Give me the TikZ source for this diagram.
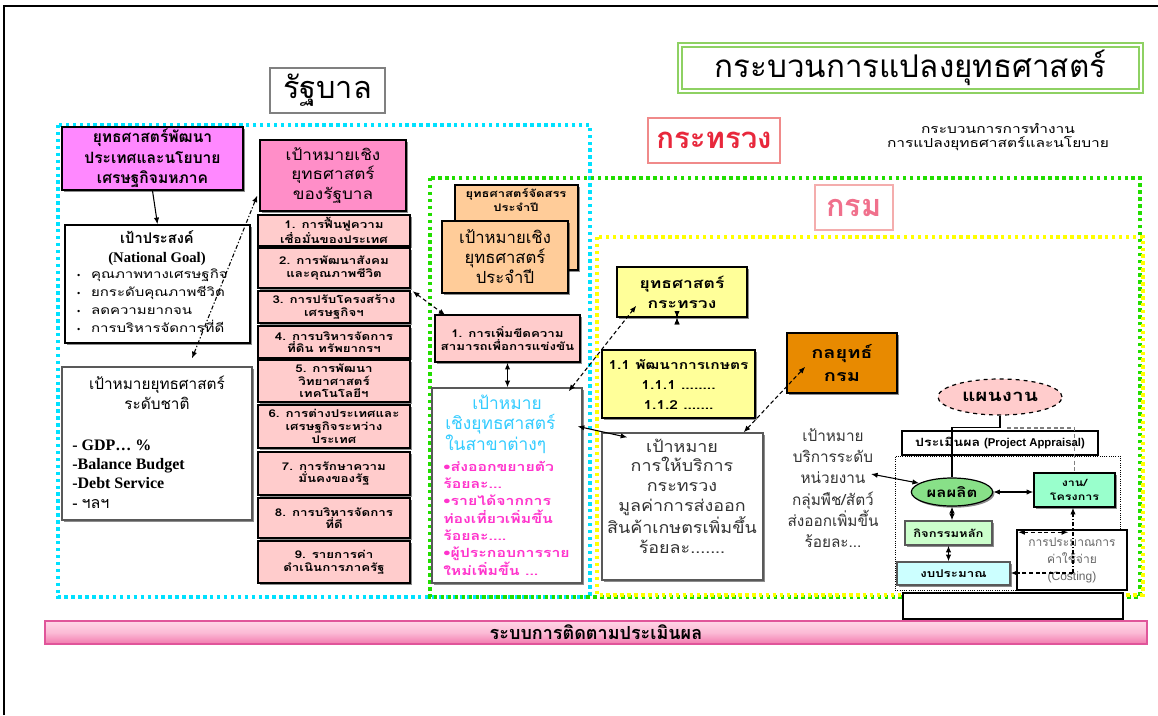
\documentclass[tikz,border=0pt]{standalone}
\usepackage{fontspec}
\setmainfont{Loma}[Script=Thai]
\newfontfamily\mthai{Loma}[Script=Thai, FakeStretch=1.12]
\newfontfamily\wthai{Loma}[Script=Thai, FakeStretch=1.25]
\newfontfamily\enserif{Liberation Serif}
\newfontfamily\ensans{Liberation Sans}
\newfontfamily\dv{DejaVu Sans}
\usetikzlibrary{arrows.meta,fit,shapes.geometric,calc,shadows}

\definecolor{cyanfr}{HTML}{00E1FF}
\definecolor{greenfr}{HTML}{22DD00}
\definecolor{yellowfr}{HTML}{FFFF00}
\definecolor{titlegreen}{HTML}{8ED163}
\definecolor{magbox}{HTML}{FF88FF}
\definecolor{pinkhead}{HTML}{FF8EC8}
\definecolor{pinkitem}{HTML}{FFCCCC}
\definecolor{orangelt}{HTML}{FFCC99}
\definecolor{yellowbox}{HTML}{FFFF99}
\definecolor{orangedk}{HTML}{E88A00}
\definecolor{mintbox}{HTML}{99FFCC}
\definecolor{greenlt}{HTML}{CCFFCC}
\definecolor{cyanlt}{HTML}{CCFFFF}
\definecolor{greenell}{HTML}{88E088}
\definecolor{redtxt}{HTML}{E8283C}
\definecolor{redfr}{HTML}{F08A8A}
\definecolor{pinktxt}{HTML}{F0708C}
\definecolor{cyantxt}{HTML}{33CCFF}
\definecolor{magtxt}{HTML}{FF33CC}
\definecolor{bartop}{HTML}{FFD6E6}
\definecolor{barbot}{HTML}{F27AAE}
\definecolor{barfr}{HTML}{E0559A}
\definecolor{greytxt}{HTML}{333333}

\newcommand\fsz[2]{\fontsize{#1}{#2}\selectfont}
\newcommand\bul{{\dv\fsz{6}{8}•}\ \ }

\begin{document}
\begin{tikzpicture}[x=0.75pt,y=-0.75pt,
  box/.style={draw=black, line width=1.1pt, inner sep=0pt},
  gbox/.style={draw=gray!70!black, line width=1pt, inner sep=0pt},
  shd/.style={drop shadow={shadow xshift=1.3pt, shadow yshift=-1.3pt, fill=black, opacity=0.45}},
  item/.style={box, fill=pinkitem, shd},
  lbl/.style={inner sep=0pt, align=center},
  itemtext/.style={lbl, font={\wthai\bfseries\fsz{8}{9.5}}},
  tipa/.style={-{Latex[length=5pt,width=4pt]}, line width=0.8pt},
  dbl/.style={{Latex[length=5pt,width=4pt]}-{Latex[length=5pt,width=4pt]}, line width=0.8pt},
  dsh/.style={dash pattern=on 3pt off 2pt},
  dashdot/.style={dash pattern=on 3pt off 1.5pt on 1pt off 1.5pt},
  frame/.style={line width=3pt, dash pattern=on 2.6pt off 2.6pt}
]
\useasboundingbox (0,0) rectangle (1158,715);

% page edge
\draw[line width=1.5pt] (4,715) -- (4,6) -- (1158,6);

% level frames
\draw[frame, cyanfr] (58,125) rectangle (590,597);
\draw[frame, greenfr] (430,178) rectangle (1140,597);
\draw[frame, yellowfr] (597,237) rectangle (1143,595);

% headings
\node[draw=titlegreen, line width=1.6pt, double=white, double distance=1.6pt,
      inner sep=0pt, fit={(680,45) (1141,91)}] (title) {};
\node[lbl, font=\fsz{23.5}{26}] (title-t) at (title) {กระบวนการแปลงยุทธศาสตร์};
\node[draw=gray, line width=0.8pt, inner sep=0pt, fit={(270,68) (385,113)}] (gov) {};
\node[lbl, font=\fsz{23}{26}] (gov-t) at (gov) {รัฐบาล};
\node[draw=redfr, line width=1pt, inner sep=0pt, fit={(648,118) (780,163)}] (ministry) {};
\node[lbl, font={\bfseries\fsz{22}{26}}, text=redtxt] (ministry-t) at (ministry) {กระทรวง};
\node[draw=redfr!70, line width=1pt, inner sep=0pt, fit={(815,185) (893,230)}] (dept) {};
\node[lbl, font={\bfseries\fsz{23}{26}}, text=pinktxt] (dept-t) at (dept) {กรม};
\node[lbl, font={\wthai\fsz{9.3}{11}}] (process) at (998,137) {กระบวนการการทำงาน\\การแปลงยุทธศาสตร์และนโยบาย};

% government level, left column
\node[box, fill=magbox, shd, fit={(62,127) (243,190)}] (macro) {};
\node[lbl, font={\bfseries\fsz{11.7}{15.5}}] (macro-t) at (macro) {ยุทธศาสตร์พัฒนา\\ประเทศและนโยบาย\\เศรษฐกิจมหภาค};
\node[box, fill=white, shd, fit={(65,225) (250,343)}] (goal) {};
\node[lbl, font={\bfseries\fsz{11}{13}}] (goal-t) at (157,237) {เป้าประสงค์};
\node[lbl, font={\enserif\bfseries\fsz{11}{13}}] (goal-e) at (157,259) {(National Goal)};
\node[anchor=west, inner sep=0pt, align=left, font={\wthai\fsz{9}{13.5}}] (goal-l) at (76,301)
  {\bul คุณภาพทางเศรษฐกิจ\\\bul ยกระดับคุณภาพชีวิต\\\bul ลดความยากจน\\\bul การบริหารจัดการที่ดี};
\node[gbox, fill=white, shd, fit={(62,367) (252,520)}] (nat) {};
\node[lbl, font=\fsz{11.5}{15}] (nat-t) at (157,393) {เป้าหมายยุทธศาสตร์\\ระดับชาติ};
\node[anchor=west, inner sep=0pt, align=left, font={\enserif\bfseries\fsz{12}{14.5}}] (nat-l) at (72,474)
  {- GDP\ldots\ \%\\-Balance Budget\\-Debt Service\\- {\rmfamily\mdseries ฯลฯ}};

% government level, strategic goals
\node[box, fill=pinkhead, shd, fit={(260,140) (406,211)}] (govgoal) {};
\node[lbl, font={\mthai\fsz{11.5}{14.5}}] (govgoal-t) at (govgoal) {เป้าหมายเชิง\\ยุทธศาสตร์\\ของรัฐบาล};
\node[item, fit={(258,215) (410,246)}] (g1) {};
\node[itemtext] (g1-t) at (g1) {1. การฟื้นฟูความ\\เชื่อมั่นของประเทศ};
\node[item, fit={(258,248) (410,288)}] (g2) {};
\node[itemtext] (g2-t) at (g2) {2. การพัฒนาสังคม\\และคุณภาพชีวิต};
\node[item, fit={(258,291) (410,323)}] (g3) {};
\node[itemtext] (g3-t) at (g3) {3. การปรับโครงสร้าง\\เศรษฐกิจฯ};
\node[item, fit={(258,326) (410,358)}] (g4) {};
\node[itemtext] (g4-t) at (g4) {4. การบริหารจัดการ\\ที่ดิน ทรัพยากรฯ};
\node[item, fit={(258,360) (410,402)}] (g5) {};
\node[itemtext] (g5-t) at (g5) {5. การพัฒนา\\วิทยาศาสตร์\\เทคโนโลยีฯ};
\node[item, fit={(258,405) (410,448)}] (g6) {};
\node[itemtext] (g6-t) at (g6) {6. การต่างประเทศและ\\เศรษฐกิจระหว่าง\\ประเทศ};
\node[item, fit={(258,452) (410,495)}] (g7) {};
\node[itemtext] (g7-t) at (g7) {7. การรักษาความ\\มั่นคงของรัฐ};
\node[item, fit={(258,498) (410,538)}] (g8) {};
\node[itemtext] (g8-t) at (g8) {8. การบริหารจัดการ\\ที่ดี};
\node[item, fit={(258,541) (410,583)}] (g9) {};
\node[itemtext] (g9-t) at (g9) {9. รายการค่า\\ดำเนินการภาครัฐ};

% annual strategy
\node[box, fill=orangelt, shd, fit={(455,185) (578,270)}] (alloc) {};
\node[lbl, font={\wthai\bfseries\fsz{7.8}{10.5}}] (alloc-t) at (516,200) {ยุทธศาสตร์จัดสรร\\ประจำปี};
\node[box, fill=orangelt, shd, fit={(442,221) (568,293)}] (annual) {};
\node[lbl, font=\fsz{12.5}{15}] (annual-t) at (annual) {เป้าหมายเชิง\\ยุทธศาสตร์\\ประจำปี};
\node[item, fit={(435,315) (580,362)}] (compete) {};
\node[itemtext, font={\wthai\bfseries\fsz{8}{10}}] (compete-t) at (compete) {1. การเพิ่มขีดความ\\สามารถเพื่อการแข่งขัน};
\node[gbox, fill=white, shd, fit={(432,388) (582,583)}] (sector) {};
\node[lbl, font=\fsz{13}{16}, text=cyantxt] (sector-t) at (507,402) {เป้าหมาย};
\node[anchor=west, inner sep=0pt, align=left, font=\fsz{13}{16}, text=cyantxt] (sector-s) at (445,434) {เชิงยุทธศาสตร์\\ในสาขาต่างๆ};
\node[anchor=west, inner sep=0pt, align=left, font={\wthai\bfseries\fsz{9.5}{13}}, text=magtxt] (sector-l) at (443,518)
  {•ส่งออกขยายตัว\\ร้อยละ...\\•รายได้จากการ\\ท่องเที่ยวเพิ่มขึ้น\\ร้อยละ....\\•ผู้ประกอบการราย\\ใหม่เพิ่มขึ้น ...};

% ministry level
\node[box, fill=yellowbox, shd, fit={(617,267) (747,317)}] (mstrat) {};
\node[lbl, font={\wthai\bfseries\fsz{10.5}{15}}] (mstrat-t) at (mstrat) {ยุทธศาสตร์\\กระทรวง};
\node[box, fill=yellowbox, shd, fit={(602,350) (755,418)}] (agri) {};
\node[lbl, font={\wthai\bfseries\fsz{9.3}{15}}] (agri-t) at (agri) {1.1 พัฒนาการเกษตร\\1.1.1 ........\\1.1.2 .......};
\node[gbox, fill=white, shd, fit={(602,433) (763,580)}] (mtarget) {};
\node[lbl, font={\mthai\fsz{12}{14.7}}, text=greytxt] (mtarget-t) at (682,496) {เป้าหมาย\\การให้บริการ\\กระทรวง\\มูลค่าการส่งออก\\สินค้าเกษตรเพิ่มขึ้น\\ร้อยละ.......};

% department level
\node[box, fill=orangedk, shd, fit={(787,333) (897,393)}] (dstrat) {};
\node[lbl, font={\wthai\bfseries\fsz{12}{17}}] (dstrat-t) at (dstrat) {กลยุทธ์\\กรม};
\node[lbl, font=\fsz{11.5}{16}, text=greytxt] (dtarget) at (833,488) {เป้าหมาย\\บริการระดับ\\หน่วยงาน\\กลุ่มพืช/สัตว์\\ส่งออกเพิ่มขึ้น\\ร้อยละ...};
\node[ellipse, draw=black, dashed, line width=0.9pt, fill=pinkitem, minimum width=93pt, minimum height=27pt,
      inner sep=0pt, font={\wthai\bfseries\fsz{12.5}{15}}] (plan) at (1000,397) {แผนงาน};
\node[box, fill=white, fit={(902,431) (1098,455)}] (appraisal) {};
\node[lbl, font=\fsz{8.5}{10}] (appraisal-t) at (appraisal) {{\wthai\bfseries ประเมินผล} {\ensans\bfseries (Project Appraisal)}};
\node[draw=black, densely dotted, line width=0.7pt, inner sep=0pt, fit={(895,456) (1120,590)}] (zone) {};
\node[box, fill=white, fit={(1017,530) (1127,590)}] (costing) {};
\node[lbl, font=\fsz{9}{12.8}, text=gray!80!black] (costing-t) at (1072,560) {การประมาณการ\\ค่าใช้จ่าย\\{\ensans (Costing)}};
\node[ellipse, draw=black, line width=0.9pt, fill=greenell, shd, minimum width=61pt, minimum height=21pt,
      inner sep=0pt, font={\wthai\bfseries\fsz{10}{11}}] (output) at (952,492) {ผลผลิต};
\node[box, fill=mintbox, shd, fit={(1034,473) (1115,507)}] (project) {};
\node[lbl, font={\wthai\bfseries\fsz{7.5}{10.5}}] (project-t) at (project) {งาน/\\โครงการ};
\node[gbox, fill=greenlt, shd, fit={(905,521) (992,545)}] (activity) {};
\node[lbl, font={\wthai\bfseries\fsz{7.8}{10}}] (activity-t) at (activity) {กิจกรรมหลัก};
\node[gbox, fill=cyanlt, shd, fit={(897,562) (1010,585)}] (budget) {};
\node[lbl, font={\wthai\bfseries\fsz{8}{10}}] (budget-t) at (budget) {งบประมาณ};
\node[box, fill=white, fit={(903,593) (1123,619)}] (spare) {};

% monitoring bar
\node[draw=barfr, line width=1pt, top color=bartop, bottom color=barbot, middle color=bartop!70!barbot,
      inner sep=0pt, fit={(45,621) (1147,644)}] (monitor) {};
\node[lbl, font={\bfseries\fsz{13.5}{15}}] (monitor-t) at (monitor) {ระบบการติดตามประเมินผล};

% connectors, government level
\draw[tipa] (macro.south) -- (goal.north);
\draw[dbl, dashdot] ($(nat.north)+(35,-8)$) -- ($(govgoal.west)+(-2,20)$);
\draw[dbl, dsh] ($(g3.north east)+(2,1)$) -- ($(compete.north west)+(11,1)$);
\draw[dbl] (compete.south) -- (compete.south |- sector.north);

% connectors, ministry level
\draw[dbl, dsh] ($(sector.north east)+(-14,4)$) -- ($(mstrat.south west)+(20,-12)$);
\draw[dbl] ($(sector.north east)+(-5,39)$) -- ($(mtarget.north west)+(26,5)$);
\draw[dbl] ($(mstrat.south)+(-5,0)$) -- ($(mstrat.south)+(-5,0)$ |- agri.north);
\draw[tipa] ($(mstrat.south)+(-5,0)$ |- agri.south) -- ($(mstrat.south)+(-5,0)$ |- mtarget.north);
\draw[dbl, dsh] ($(mtarget.north east)+(-20,0)$) -- ($(dstrat.south west)+(19,-27)$);

% connectors, department level
\coordinate (apptop) at (1007,428);
\coordinate (unit) at (871,474);
\coordinate (cost) at (1073,573);
\draw[line width=0.8pt] (plan.south) -- ++(0,12) -| (output.north);
\draw[dsh, line width=0.8pt, gray] (apptop) -| (project.north);
\draw[dbl] (unit) -- (output.165);
\draw[dbl] (output.east) -- (output.east -| project.west);
\draw[dbl] (output.south) -- (output.south |- activity.north);
\draw[dbl] (activity.south) -- (activity.south |- budget.north);
\draw[dbl, dsh] ($(costing.north west)+(2,3)$) -- ($(costing.north west)+(52,3)$);
\draw[tipa, dsh] (cost) -- (cost -| budget.east);
\draw[tipa, dashdot] (cost) -- (cost |- project.south);
\end{tikzpicture}
\end{document}
